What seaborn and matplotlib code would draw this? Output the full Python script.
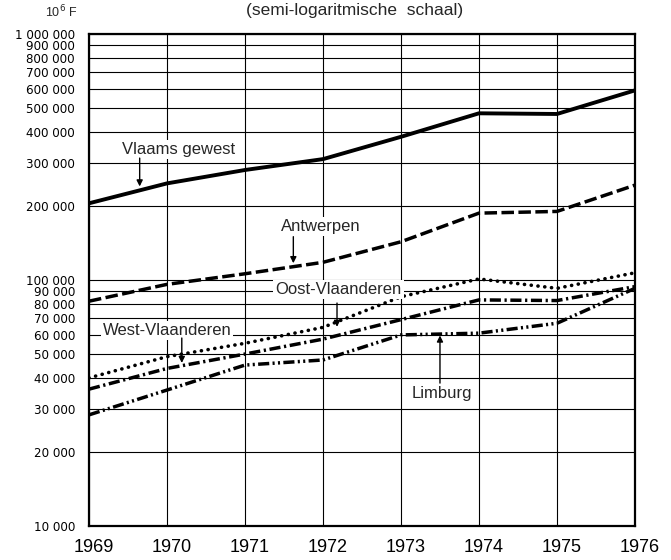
import matplotlib
matplotlib.use("Agg")
import matplotlib.pyplot as plt
import matplotlib.ticker as mticker
from matplotlib.transforms import ScaledTranslation
import pandas as pd
import seaborn as sns

# values in 10^6 F
years = [1969, 1970, 1971, 1972, 1973, 1974, 1975, 1976]
vlaams_gewest = [205000, 247000, 280000, 310000, 382000, 476000, 473000, 590000]
antwerpen = [82000, 96000, 106000, 118000, 143000, 187000, 190000, 243000]
oost_vlaanderen = [40000, 48800, 55300, 64200, 85500, 101000, 92500, 107000]
west_vlaanderen = [36000, 43700, 50000, 57500, 69000, 83000, 82500, 94000]
limburg = [28300, 35700, 45100, 47300, 59800, 60800, 66700, 92500]

y_ticks = [10000, 20000, 30000, 40000, 50000, 60000, 70000, 80000, 90000,
           100000, 200000, 300000, 400000, 500000, 600000, 700000, 800000,
           900000, 1000000]

sns.set_theme(style="white")
plt.rcParams['font.family'] = ['Liberation Sans', 'DejaVu Sans']
plt.rcParams['lines.scale_dashes'] = False

series = {
    'Vlaams gewest': vlaams_gewest,
    'Antwerpen': antwerpen,
    'Oost-Vlaanderen': oost_vlaanderen,
    'West-Vlaanderen': west_vlaanderen,
    'Limburg': limburg,
}
styles = {
    'Vlaams gewest': dict(linestyle='-', linewidth=2.8),
    'Antwerpen': dict(linestyle=(0, (9, 3.2)), linewidth=2.5),
    'Oost-Vlaanderen': dict(linestyle=(0, (0.1, 4.8)), linewidth=2.6,
                            dash_capstyle='round'),
    'West-Vlaanderen': dict(linestyle=(0, (8, 2.6, 1.6, 2.6)), linewidth=2.5),
    'Limburg': dict(linestyle=(0, (8, 2.4, 1.5, 2.4, 1.5, 2.4)), linewidth=2.5),
}

fig = plt.figure(figsize=(6.71, 5.6), dpi=100)
ax = fig.add_axes([0.1326, 0.0607, 0.8137, 0.8786])

for name, vals in series.items():
    df = pd.DataFrame({'jaar': years, 'waarde': vals})
    sns.lineplot(data=df, x='jaar', y='waarde', ax=ax, color='black',
                 zorder=4, **styles[name])

ax.set_yscale('log')
ax.set_xlim(1969, 1976)
ax.set_ylim(10000, 1000000)
ax.set_xticks(years)
ax.set_xticklabels([str(y) for y in years])
ax.yaxis.set_major_locator(mticker.FixedLocator(y_ticks))
ax.yaxis.set_minor_locator(mticker.NullLocator())
ax.yaxis.set_major_formatter(
    mticker.FuncFormatter(lambda v, p: f"{int(round(v)):,}".replace(",", " ")))
ax.tick_params(axis='y', length=0, pad=10, labelsize=8.6, labelcolor='black')
ax.tick_params(axis='x', length=0, pad=9, labelsize=13, labelcolor='black')
for lab in ax.get_yticklabels():
    lab.set_family(['DejaVu Sans'])
shift = ScaledTranslation(5 / 100, 0, fig.dpi_scale_trans)
for lab in ax.get_xticklabels():
    lab.set_transform(lab.get_transform() + shift)
ax.set_xlabel('')
ax.set_ylabel('')
ax.grid(True, color='black', linewidth=0.8)
for sp in ax.spines.values():
    sp.set_color('black')
    sp.set_linewidth(1.6)
    sp.set_visible(True)

fig.text(0.528, 0.982, '(semi-logaritmische  schaal)', ha='center', va='center',
         fontsize=12.5)
fig.text(0.115, 0.978, '10$^6$ F', ha='right', va='center', fontsize=9)

box = dict(facecolor='white', edgecolor='none', pad=1.5)
arrow = dict(arrowstyle='-|>', color='black', lw=1.0, mutation_scale=9,
             shrinkA=0, shrinkB=0)

labels = [
    ('Vlaams gewest', (1970.15, 338000), (1969.65, 313000), (1969.65, 240000)),
    ('Antwerpen', (1971.97, 165000), (1971.62, 150000), (1971.62, 117000)),
    ('Oost-Vlaanderen', (1972.2, 91900), (1972.18, 80600), (1972.18, 64500)),
    ('West-Vlaanderen', (1970.0, 62600), (1970.19, 58100), (1970.19, 46000)),
    ('Limburg', (1973.53, 34700), (1973.5, 38100), (1973.5, 59500)),
]
for txt, tpos, a0, a1 in labels:
    ax.text(tpos[0], tpos[1], txt, ha='center', va='center', fontsize=12,
            bbox=box, zorder=5)
    ax.annotate('', xy=a1, xytext=a0, arrowprops=arrow, zorder=5)

plt.savefig('out.png', dpi=100)
